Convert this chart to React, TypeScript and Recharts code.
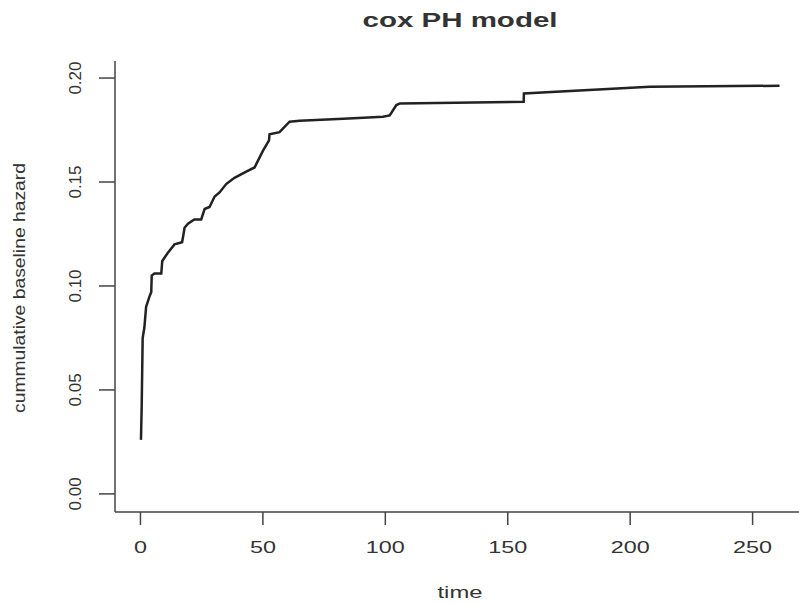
import { LineChart, Line, XAxis, YAxis } from "recharts"

const times = [
  0.2, 0.5, 0.9, 1.6, 2.3, 3.7, 4.4, 4.6, 5.7, 8.5, 8.9, 11.2, 13.9, 17.0, 17.6, 18, 19.4, 22, 24.8,
  26.2, 28.2, 30.3, 32.3, 35, 38.4, 43.2, 46.6, 50, 52.5, 52.7, 56.8, 60.9, 65, 85, 99, 101.8, 104.5,
  106, 156.5, 156.6, 208, 261,
]
const hazard = [
  0.026, 0.042, 0.075, 0.08, 0.09, 0.095, 0.097, 0.105, 0.106, 0.106, 0.112, 0.116, 0.12, 0.121, 0.125,
  0.128, 0.13, 0.132, 0.132, 0.137, 0.138, 0.143, 0.145, 0.149, 0.152, 0.155, 0.157, 0.165, 0.17, 0.173,
  0.174, 0.179, 0.1795, 0.1805, 0.1814, 0.182, 0.187, 0.1878, 0.1886, 0.1926, 0.1958, 0.1963,
]
const xTicks = [0, 50, 100, 150, 200, 250]
const yTicks = [0, 0.05, 0.1, 0.15, 0.2]
const yTickLabels = ["0.00", "0.05", "0.10", "0.15", "0.20"]

const X_DOMAIN: [number, number] = [-10.4, 271.4]
const Y_DOMAIN: [number, number] = [-0.0087, 0.2082]

const data = times.map((t, i) => ({ time: t, hazard: hazard[i] }))

const FONT = "'Liberation Sans', Arial, Helvetica, sans-serif"
const INK = "#333"
const FRAME = { stroke: "#444", strokeWidth: 1.5 }

function XTick(props: any) {
  const { x, payload } = props
  const label = String(payload.value)
  return (
    <text
      x={x}
      y={553}
      textAnchor="middle"
      fontFamily={FONT}
      fontSize={17}
      fill={INK}
      textLength={label.length * 13}
      lengthAdjust="spacingAndGlyphs"
    >
      {label}
    </text>
  )
}

function YTick(props: any) {
  const { y, payload } = props
  const idx = yTicks.indexOf(payload.value)
  const label = idx >= 0 ? yTickLabels[idx] : String(payload.value)
  return (
    <text
      x={81}
      y={y}
      transform={`rotate(-90, 81, ${y})`}
      textAnchor="middle"
      fontFamily={FONT}
      fontSize={17}
      fill={INK}
    >
      {label}
    </text>
  )
}

export default function App() {
  return (
    <div style={{ position: "fixed", left: 0, top: 0, width: 799, height: 605, overflow: "hidden", background: "#fff" }}>
      <LineChart width={830} height={605} data={data} margin={{ top: 61, right: 25, bottom: 0, left: 0 }}>
        <XAxis
          dataKey="time"
          type="number"
          domain={X_DOMAIN}
          ticks={xTicks}
          allowDataOverflow
          axisLine={FRAME}
          tickLine={FRAME}
          tickSize={13}
          tick={<XTick />}
          height={93}
        />
        {/* top edge of the box */}
        <XAxis
          xAxisId="top"
          orientation="top"
          type="number"
          domain={X_DOMAIN}
          allowDataOverflow
          axisLine={FRAME}
          tick={false}
          tickLine={false}
          height={0}
        />
        <YAxis
          type="number"
          domain={Y_DOMAIN}
          ticks={yTicks}
          allowDataOverflow
          axisLine={FRAME}
          tickLine={FRAME}
          tickSize={16}
          tick={<YTick />}
          width={115}
        />
        <Line
          dataKey="hazard"
          type="linear"
          stroke="#222"
          strokeWidth={2.5}
          dot={false}
          isAnimationActive={false}
        />
      </LineChart>
      <svg width={799} height={605} style={{ position: "absolute", left: 0, top: 0, pointerEvents: "none" }}>
        <text
          x={460}
          y={27}
          textAnchor="middle"
          fontFamily={FONT}
          fontWeight="bold"
          fontSize={20}
          fill={INK}
          textLength={195}
          lengthAdjust="spacingAndGlyphs"
        >
          cox PH model
        </text>
        <text
          x={460}
          y={598}
          textAnchor="middle"
          fontFamily={FONT}
          fontSize={17}
          fill={INK}
          textLength={45}
          lengthAdjust="spacingAndGlyphs"
        >
          time
        </text>
        <text
          x={25}
          y={288}
          transform="rotate(-90, 25, 288)"
          textAnchor="middle"
          fontFamily={FONT}
          fontSize={17}
          fill={INK}
          textLength={250}
          lengthAdjust="spacingAndGlyphs"
        >
          cummulative baseline hazard
        </text>
      </svg>
    </div>
  )
}
